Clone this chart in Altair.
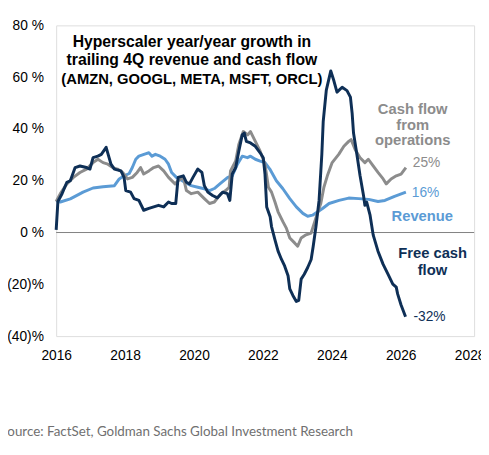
import altair as alt
import pandas as pd

# ---------------- data ----------------
rev_year = [2016.00, 2016.12, 2016.41, 2016.78, 2017.07, 2017.36, 2017.69, 2017.83, 2017.97,
            2018.12, 2018.21, 2018.31, 2018.40, 2018.59, 2018.69, 2018.78, 2018.88, 2019.02,
            2019.16, 2019.26, 2019.35, 2019.49, 2019.60, 2019.73, 2019.92, 2020.11, 2020.30,
            2020.45, 2020.59, 2020.75, 2020.98, 2021.11, 2021.26, 2021.40, 2021.55, 2021.64,
            2021.78, 2021.92, 2022.06, 2022.20, 2022.39, 2022.58, 2022.78, 2022.97, 2023.16,
            2023.30, 2023.44, 2023.59, 2023.73, 2023.92, 2024.21, 2024.49, 2024.78, 2025.07,
            2025.34, 2025.54, 2025.82, 2026.15]
rev_val = [12.3, 11.8, 13.0, 15.6, 17.2, 17.7, 18.1, 20.7, 21.9,
           22.8, 25.1, 28.3, 29.5, 30.4, 30.8, 29.5, 30.2, 29.5,
           28.3, 26.4, 23.2, 21.3, 20.5, 19.4, 18.1, 17.5, 16.9,
           16.2, 17.0, 18.8, 21.3, 21.9, 26.4, 29.5, 28.9, 29.5,
           28.3, 27.6, 27.0, 24.5, 20.0, 16.9, 13.1, 9.9, 7.4,
           6.3, 6.7, 8.0, 9.3, 11.2, 12.4, 13.3, 13.1, 12.8,
           12.0, 12.4, 14.0, 15.6]

cfo_year = [2016.00, 2016.12, 2016.31, 2016.50, 2016.69, 2016.88, 2017.07, 2017.21, 2017.36,
            2017.50, 2017.64, 2017.78, 2017.93, 2018.07, 2018.21, 2018.35, 2018.45, 2018.54,
            2018.69, 2018.83, 2018.97, 2019.12, 2019.26, 2019.45, 2019.54, 2019.69, 2019.78,
            2019.92, 2020.11, 2020.30, 2020.45, 2020.59, 2020.78, 2020.92, 2021.02, 2021.06,
            2021.21, 2021.30, 2021.43, 2021.56, 2021.64, 2021.78, 2021.92, 2022.06, 2022.16,
            2022.25, 2022.35, 2022.44, 2022.58, 2022.68, 2022.78, 2022.92, 2023.01, 2023.11,
            2023.25, 2023.40, 2023.49, 2023.58, 2023.68, 2023.77, 2023.87, 2024.01, 2024.20,
            2024.35, 2024.49, 2024.56, 2024.68, 2024.82, 2024.96, 2025.06, 2025.20, 2025.34,
            2025.49, 2025.58, 2025.72, 2025.87, 2026.01, 2026.15]
cfo_val = [12.0, 15.0, 18.8, 21.3, 23.2, 24.5, 27.0, 28.3, 27.0,
           26.4, 25.1, 24.5, 23.2, 20.7, 21.3, 23.2, 25.1, 22.6,
           23.8, 25.1, 25.7, 23.8, 21.3, 18.8, 20.0, 21.3, 16.2,
           15.0, 15.6, 13.1, 11.2, 11.8, 15.0, 16.2, 17.5, 23.8,
           27.6, 34.0, 39.0, 37.7, 39.0, 35.2, 31.4, 26.4, 17.5,
           15.6, 11.8, 8.0, 4.2, 1.7, -2.1, -4.0, -5.3, -2.1,
           -0.9, -0.2, 3.6, 7.4, 11.2, 17.5, 21.9, 27.0, 30.2,
           33.3, 35.2, 35.9, 32.0, 28.9, 27.0, 28.3, 25.7, 23.2,
           20.7, 18.8, 20.7, 21.9, 22.6, 25.1]

fcf_year = [2016.00, 2016.05, 2016.17, 2016.31, 2016.41, 2016.55, 2016.69, 2016.88, 2016.98,
            2017.07, 2017.21, 2017.31, 2017.45, 2017.59, 2017.69, 2017.88, 2017.97, 2018.02,
            2018.16, 2018.26, 2018.40, 2018.54, 2018.69, 2018.83, 2018.97, 2019.12, 2019.26,
            2019.35, 2019.47, 2019.54, 2019.69, 2019.78, 2019.87, 2019.97, 2020.11, 2020.23,
            2020.30, 2020.40, 2020.54, 2020.68, 2020.83, 2020.97, 2021.04, 2021.11, 2021.21,
            2021.30, 2021.40, 2021.46, 2021.52, 2021.64, 2021.78, 2021.92, 2022.01, 2022.06,
            2022.11, 2022.21, 2022.25, 2022.35, 2022.44, 2022.54, 2022.63, 2022.73, 2022.78,
            2022.87, 2022.97, 2023.04, 2023.11, 2023.20, 2023.30, 2023.40, 2023.46, 2023.54,
            2023.63, 2023.71, 2023.75, 2023.84, 2023.97, 2024.06, 2024.15, 2024.30, 2024.44,
            2024.54, 2024.59, 2024.63, 2024.72, 2024.82, 2024.92, 2024.96, 2025.01, 2025.11,
            2025.20, 2025.34, 2025.49, 2025.63, 2025.77, 2025.87, 2025.91, 2026.01, 2026.14]
fcf_val = [1.0, 12.0, 15.0, 19.4, 20.0, 25.1, 25.7, 25.1, 24.5,
           28.9, 29.5, 30.2, 32.9, 26.4, 24.5, 23.8, 21.3, 16.2,
           15.6, 13.1, 12.4, 8.6, 9.3, 9.9, 10.5, 9.9, 11.8,
           11.2, 11.2, 21.3, 21.9, 19.4, 18.8, 21.3, 24.5, 23.2,
           18.1, 15.6, 14.3, 13.4, 15.6, 15.0, 12.4, 22.6, 25.1,
           31.4, 37.7, 38.4, 35.2, 34.6, 33.3, 30.8, 28.9, 22.6,
           9.9, 6.1, 2.3, -2.8, -7.2, -10.4, -12.9, -16.7, -21.8,
           -24.3, -26.6, -26.2, -18.0, -16.1, -13.5, -10.4, -5.3, 2.3,
           12.4, 30.2, 42.8, 55.0, 62.4, 58.6, 54.2, 56.1, 54.8,
           52.3, 46.0, 38.4, 30.8, 21.9, 14.3, 10.5, 11.8, 6.7,
           -0.9, -7.2, -12.3, -16.1, -19.9, -21.1, -23.7, -28.0, -32.5]

series_names = ["Revenue", "Cash flow from operations", "Free cash flow"]
series_colors = ["#5b9bd5", "#8c8c8c", "#0e2f56"]
end_labels = ["16%", "25%", "-32%"]

title_lines = ["Hyperscaler year/year growth in",
               "trailing 4Q revenue and cash flow",
               "(AMZN, GOOGL, META, MSFT, ORCL)"]
cfo_text = ["Cash flow", "from", "operations"]
rev_text = ["Revenue"]
fcf_text = ["Free cash", "flow"]
source_text = "Source: FactSet, Goldman Sachs Global Investment Research"

x_ticks = [2016, 2018, 2020, 2022, 2024, 2026, 2028]
y_ticks = [-40, -20, 0, 20, 40, 60, 80]

# ---------------- tables ----------------
frames = []
for name, yrs, vals in [(series_names[0], rev_year, rev_val),
                        (series_names[1], cfo_year, cfo_val),
                        (series_names[2], fcf_year, fcf_val)]:
    frames.append(pd.DataFrame({"series": name, "year": yrs, "value": vals}))
df = pd.concat(frames, ignore_index=True)
df["order"] = df.groupby("series").cumcount()

FONT = "Liberation Sans"
W, H = 425, 316

xs = alt.Scale(domain=[2016, 2028.13], nice=False, zero=False)
ys = alt.Scale(domain=[-40, 80], nice=False, zero=False)
cs = alt.Scale(domain=series_names, range=series_colors)

x_axis = alt.Axis(values=x_ticks, format="d", ticks=False, domain=False, grid=False,
                  labelPadding=13, labelFontSize=14, labelFont=FONT, labelColor="#000000",
                  title=None, labelFlush=False, labelOverlap=False)
y_axis = alt.Axis(values=y_ticks, ticks=False, domain=False, grid=False,
                  labelPadding=13, labelFontSize=14, labelFont=FONT, labelColor="#000000",
                  title=None,
                  labelExpr="datum.value < 0 ? '(' + abs(datum.value) + ')%' : datum.value + ' %'")

zero = alt.Chart(pd.DataFrame({"v": [0]})).mark_rule(color="#808080", strokeWidth=1).encode(
    y=alt.Y("v:Q", scale=ys, axis=y_axis))

lines = []
for name in series_names:
    lines.append(
        alt.Chart(df[df.series == name]).mark_line(strokeWidth=3, strokeJoin="round").encode(
            x=alt.X("year:Q", scale=xs, axis=x_axis),
            y=alt.Y("value:Q", scale=ys, axis=y_axis),
            color=alt.Color("series:N", scale=cs, legend=None),
            order="order:Q",
        )
    )

# end-of-series value labels
end_rows = []
for i, name in enumerate(series_names):
    sub = df[df.series == name]
    end_rows.append({"series": name, "year": sub.year.iloc[-1], "value": sub.value.iloc[-1],
                     "label": end_labels[i]})
end_df = pd.DataFrame(end_rows)
end_offsets = {"Revenue": (6, 1), "Cash flow from operations": (7, -5), "Free cash flow": (8, 0)}
end_layers = []
for name in series_names:
    dx, dy = end_offsets[name]
    end_layers.append(
        alt.Chart(end_df[end_df.series == name]).mark_text(
            align="left", baseline="middle", dx=dx, dy=dy, fontSize=14,
            font="Liberation Sans Narrow, " + FONT).encode(
            x=alt.X("year:Q", scale=xs), y=alt.Y("value:Q", scale=ys),
            text="label:N", color=alt.Color("series:N", scale=cs, legend=None))
    )


def label(text, x, y, color, size, weight="bold", align="center", font=FONT):
    return alt.Chart(pd.DataFrame({"t": [text]})).mark_text(
        align=align, baseline="alphabetic", color=color, fontSize=size,
        fontWeight=weight, font=font).encode(x=alt.value(x), y=alt.value(y), text="t:N")


texts = [
    label(title_lines[0], 138, 22.3, "#000000", 16),
    label(title_lines[1], 138, 40.7, "#000000", 16),
    label(title_lines[2], 138, 59.7, "#000000", 15),
    label(cfo_text[0], 362.5, 89.7, series_colors[1], 15),
    label(cfo_text[1], 362.5, 106.3, series_colors[1], 15),
    label(cfo_text[2], 362.5, 121.3, series_colors[1], 15),
    label(rev_text[0], 372.3, 198.7, series_colors[0], 15),
    label(fcf_text[0], 382.8, 237, series_colors[2], 15),
    label(fcf_text[1], 382.6, 254, series_colors[2], 15),
    label(source_text, -57, 417.3, "#707070", 13.6, weight="normal", align="left", font="Lato"),
]

chart = alt.layer(zero, *lines, *end_layers, *texts).properties(
    width=W, height=H,
    autosize=alt.AutoSizeParams(type="none"),
    padding={"left": 49, "top": 14, "right": 7, "bottom": 103},
).configure_view(stroke="#808080", strokeWidth=1.3).configure(background="white")

chart.save("out.html", embed_options={"renderer": "svg", "actions": False})
